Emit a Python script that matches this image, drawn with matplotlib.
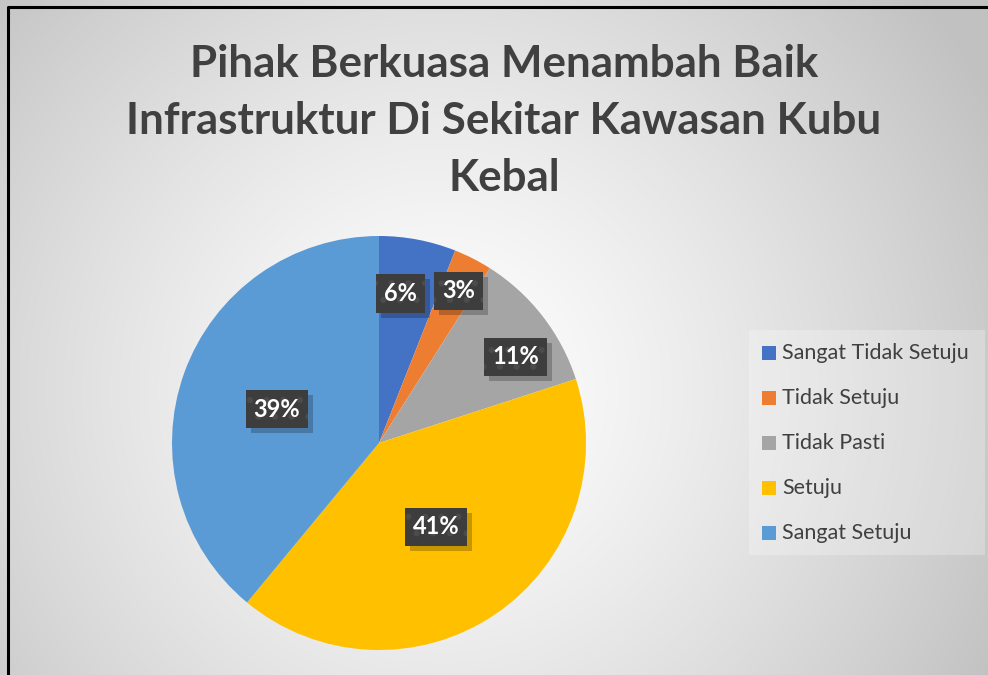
import numpy as np
import matplotlib
matplotlib.use("Agg")
import matplotlib.pyplot as plt
from matplotlib.patches import Rectangle
from matplotlib.transforms import IdentityTransform

categories = ["Sangat Tidak Setuju", "Tidak Setuju", "Tidak Pasti", "Setuju", "Sangat Setuju"]
values = [6, 3, 11, 41, 39]
colors = ["#4472C4", "#ED7D31", "#A5A5A5", "#FFC000", "#5B9BD5"]
title = "Pihak Berkuasa Menambah Baik\nInfrastruktur Di Sekitar Kawasan Kubu\nKebal"

plt.rcParams["font.family"] = ["Lato", "DejaVu Sans"]
plt.rcParams["hatch.linewidth"] = 2.0

W, H = 988, 675
fig = plt.figure(figsize=(W / 100, H / 100), dpi=100)

# radial background gradient
bg = fig.add_axes([0, 0, 1, 1], zorder=-10)
yy, xx = np.mgrid[0:H, 0:W]
d = np.hypot(xx - 440, yy - 390) / 620.0
shade = 1.0 - 0.24 * np.clip(d, 0, 1) ** 1.3
bg.imshow(np.dstack([shade] * 3), extent=[0, W, H, 0], aspect="auto")
bg.plot([8, 8, W + 5], [H + 5, 7, 7], color="black", lw=2.2, solid_capstyle="butt")
bg.set_xlim(0, W)
bg.set_ylim(H, 0)
bg.axis("off")

fig.text(504 / W, 1 - 121 / H, title, ha="center", va="center", fontsize=31.7,
         fontweight="bold", color="#404040", linespacing=1.52)

# pie
cx, cy, r = 379, 443, 207
ax = fig.add_axes([(cx - r) / W, 1 - (cy + r) / H, 2 * r / W, 2 * r / H])
wedges, _ = ax.pie(values, colors=colors, startangle=90, counterclock=False,
                   radius=1.0, wedgeprops=dict(linewidth=0))
ax.set_xlim(-1, 1)
ax.set_ylim(-1, 1)
ax.set_aspect("equal")
ax.axis("off")

# percentage labels: (fraction along wedge, radial fraction)
placement = [(0.62, 0.73), (0.44, 0.83), (0.36, 0.78), (0.50, 0.49), (0.51, 0.52)]
labels = []
for w, v, (af, rf) in zip(wedges, values, placement):
    ang = np.deg2rad(w.theta1 + af * (w.theta2 - w.theta1))
    x, y = rf * np.cos(ang), rf * np.sin(ang)
    t = ax.text(x, y, f"{v}%", ha="center", va="center", fontsize=17,
                fontweight="bold", color="white", zorder=6,
                bbox=dict(boxstyle="square,pad=0.33", fc="#3d3d3d", ec="#4b4b4b",
                          lw=0, hatch="."))
    labels.append(t)

# drop shadows behind the label boxes
fig.canvas.draw()
for t in labels:
    bb = t.get_bbox_patch().get_window_extent()
    shadow = Rectangle((bb.x0 + 5, bb.y0 - 5), bb.width, bb.height,
                       transform=IdentityTransform(), fc="black", ec="none",
                       alpha=0.22, zorder=3, clip_on=False)
    ax.add_artist(shadow)

# legend
lg = fig.add_axes([0, 0, 1, 1], zorder=5)
lg.set_xlim(0, W)
lg.set_ylim(H, 0)
lg.axis("off")
lg.add_patch(Rectangle((749, 330), 236, 225, fc="white", ec="none", alpha=0.25))
rows = [353, 398, 443, 488, 533]
for yrow, c, name in zip(rows, colors, categories):
    lg.add_patch(Rectangle((762, yrow - 7), 14, 14, fc=c, ec="none"))
    lg.text(782, yrow, name, ha="left", va="center", fontsize=15.5, color="#404040")

fig.savefig("out.png", dpi=100)
